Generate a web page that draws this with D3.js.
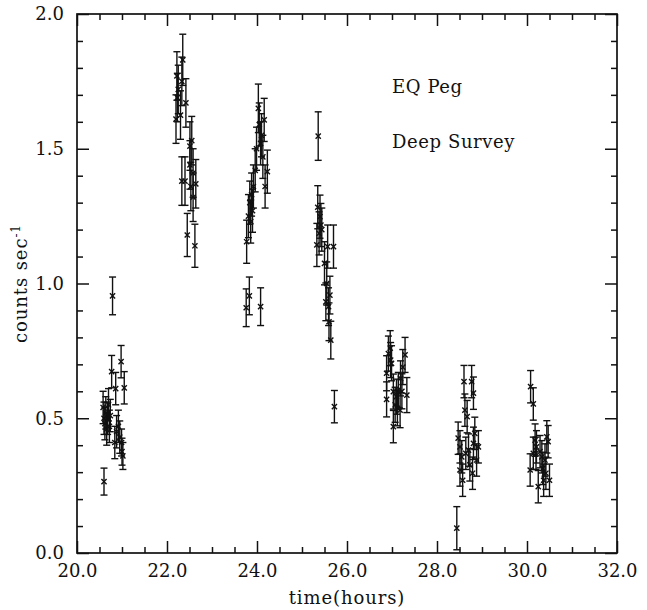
<!DOCTYPE html>
<html>
<head>
<meta charset="utf-8">
<script src="https://cdn.jsdelivr.net/npm/d3@7"></script>
<style>
  body { margin: 0; background: #fff; }
  svg text { font-family: "DejaVu Serif", "Liberation Serif", serif; fill: #111; }
</style>
</head>
<body>
<div id="svg-container"></div>
<script>
////////////////////////////////////////////////////////////////////
////////////////////////////  Data  ////////////////////////////////
// time (hours), count rate (counts/sec), 1-sigma error
const timeHours = [
  20.58, 20.60, 20.62, 20.64, 20.66, 20.68, 20.70, 20.72, 20.74, 20.60, 20.79, 20.77, 20.86, 20.98, 21.05, 20.84, 20.92, 20.95, 21.00, 20.99, 21.02, 20.88,
  22.20, 22.22, 22.23, 22.25, 22.30, 22.33, 22.35, 22.42, 22.33, 22.40, 22.45, 22.51, 22.51, 22.53, 22.55, 22.58, 22.58, 22.62, 22.64,
  23.76, 23.83, 24.08, 23.77, 23.81, 23.84, 23.86, 23.88, 23.90, 23.92, 23.96, 23.99, 24.03, 24.05, 24.08, 24.10, 24.13, 24.16, 24.18, 24.23,
  25.36, 25.33, 25.35, 25.38, 25.40, 25.42, 25.44, 25.50, 25.53, 25.55, 25.57, 25.59, 25.60, 25.62, 25.64, 25.70, 25.72,
  26.88, 26.88, 26.92, 26.96, 26.97, 26.99, 27.03, 27.03, 27.07, 27.10, 27.12, 27.14, 27.18, 27.19, 27.22, 27.24, 27.29, 27.33,
  28.44, 28.47, 28.51, 28.55, 28.51, 28.57, 28.60, 28.62, 28.64, 28.67, 28.70, 28.73, 28.77, 28.79, 28.81, 28.81, 28.84, 28.88, 28.92,
  30.07, 30.08, 30.14, 30.14, 30.18, 30.20, 30.21, 30.25, 30.29, 30.33, 30.35, 30.37, 30.40, 30.42, 30.44, 30.47, 30.50
];
const rates = [
  0.54, 0.50, 0.48, 0.52, 0.46, 0.50, 0.55, 0.47, 0.51, 0.265, 0.954, 0.673, 0.61, 0.71, 0.613, 0.41, 0.47, 0.43, 0.376, 0.41, 0.36, 0.45,
  1.61, 1.77, 1.69, 1.72, 1.625, 1.75, 1.83, 1.67, 1.38, 1.38, 1.18, 1.51, 1.44, 1.36, 1.53, 1.41, 1.32, 1.14, 1.37,
  0.91, 0.954, 0.914, 1.155, 1.25, 1.30, 1.23, 1.33, 1.27, 1.36, 1.42, 1.50, 1.65, 1.59, 1.52, 1.55, 1.47, 1.607, 1.36, 1.415,
  1.547, 1.143, 1.283, 1.186, 1.248, 1.217, 1.20, 1.075, 0.932, 1.0, 1.137, 0.914, 0.858, 0.957, 0.79, 1.137, 0.543,
  0.667, 0.57, 0.74, 0.76, 0.716, 0.704, 0.599, 0.469, 0.55, 0.58, 0.537, 0.605, 0.53, 0.648, 0.60, 0.69, 0.735, 0.586,
  0.092, 0.426, 0.394, 0.357, 0.308, 0.27, 0.636, 0.53, 0.37, 0.506, 0.382, 0.327, 0.636, 0.296, 0.593, 0.407, 0.444, 0.345, 0.394,
  0.308, 0.617, 0.553, 0.37, 0.419, 0.37, 0.394, 0.246, 0.376, 0.357, 0.314, 0.27, 0.345, 0.296, 0.431, 0.413, 0.27
];
const errors = [
  0.06, 0.06, 0.06, 0.06, 0.06, 0.06, 0.06, 0.06, 0.06, 0.05, 0.07, 0.06, 0.06, 0.06, 0.06, 0.06, 0.06, 0.06, 0.05, 0.05, 0.05, 0.06,
  0.09, 0.09, 0.09, 0.09, 0.09, 0.09, 0.095, 0.09, 0.09, 0.09, 0.08, 0.09, 0.09, 0.09, 0.09, 0.09, 0.09, 0.08, 0.09,
  0.07, 0.07, 0.07, 0.08, 0.08, 0.08, 0.08, 0.08, 0.08, 0.08, 0.08, 0.08, 0.09, 0.08, 0.08, 0.08, 0.08, 0.08, 0.08, 0.08,
  0.09, 0.08, 0.08, 0.08, 0.08, 0.08, 0.08, 0.08, 0.07, 0.08, 0.08, 0.07, 0.07, 0.07, 0.07, 0.08, 0.06,
  0.065, 0.065, 0.065, 0.065, 0.065, 0.065, 0.065, 0.06, 0.065, 0.065, 0.065, 0.065, 0.065, 0.065, 0.065, 0.065, 0.065, 0.065,
  0.08, 0.06, 0.06, 0.06, 0.06, 0.06, 0.06, 0.06, 0.06, 0.06, 0.06, 0.06, 0.06, 0.06, 0.06, 0.06, 0.06, 0.06, 0.06,
  0.06, 0.06, 0.06, 0.06, 0.06, 0.06, 0.06, 0.06, 0.06, 0.06, 0.06, 0.06, 0.06, 0.06, 0.06, 0.06, 0.06
];

const xMajorTicks = [20, 22, 24, 26, 28, 30, 32];
const yMajorTicks = [0, 0.5, 1.0, 1.5, 2.0];
const annotations = ["EQ Peg", "Deep Survey"];

////////////////////////////////////////////////////////////////////
////////////////////////////  Init  ////////////////////////////////
const width = 647;
const height = 610;
const margin = { top: 14, right: 30, bottom: 57, left: 77 };

const svg = d3
  .select("#svg-container")
  .append("svg")
  .attr("width", width)
  .attr("height", height);

const xScale = d3
  .scaleLinear()
  .domain([20, 32])
  .range([margin.left, width - margin.right]);

const yScale = d3
  .scaleLinear()
  .domain([0, 2])
  .range([height - margin.bottom, margin.top]);

const data = timeHours.map((t, i) => ({ t: t, r: rates[i], e: errors[i] }));

////////////////////////////////////////////////////////////////////
////////////////////////////  Axes  ////////////////////////////////
const xMinor = d3.range(20, 32.01, 0.5).filter((d) => d % 2 !== 0);
const yMinor = d3.range(0, 2.001, 0.1).filter((d) => Math.abs(d * 2 - Math.round(d * 2)) > 1e-6);
const fmt = d3.format(".1f");

function drawAxis(axisFn, scale, major, minor, transform, pad) {
  svg
    .append("g")
    .attr("class", "axis")
    .attr("transform", transform)
    .call(axisFn(scale).tickValues(major).tickSize(-12).tickPadding(pad || 0).tickFormat(pad ? fmt : () => ""));
  svg
    .append("g")
    .attr("class", "axis")
    .attr("transform", transform)
    .call(axisFn(scale).tickValues(minor).tickSize(-6).tickFormat(() => ""));
}

drawAxis(d3.axisBottom, xScale, xMajorTicks, xMinor, `translate(0,${yScale(0)})`, 11);
drawAxis(d3.axisTop, xScale, xMajorTicks, xMinor, `translate(0,${yScale(2)})`, 0);
drawAxis(d3.axisLeft, yScale, yMajorTicks, yMinor, `translate(${xScale(20)},0)`, 13);
drawAxis(d3.axisRight, yScale, yMajorTicks, yMinor, `translate(${xScale(32)},0)`, 0);

svg.selectAll(".axis .domain").remove();
svg.selectAll(".axis line").attr("stroke", "#111").attr("stroke-width", 1.5);
svg.selectAll(".axis text").style("font-size", "18px").attr("fill", "#111");

// frame
svg
  .append("rect")
  .attr("x", xScale(20))
  .attr("y", yScale(2))
  .attr("width", xScale(32) - xScale(20))
  .attr("height", yScale(0) - yScale(2))
  .attr("fill", "none")
  .attr("stroke", "#111")
  .attr("stroke-width", 1.7);

////////////////////////////////////////////////////////////////////
////////////////////////////  Points  //////////////////////////////
const cap = 3.5;
const mk = 2.6;
const pts = svg.append("g").attr("stroke", "#111").attr("stroke-width", 1.4);

const bars = pts.selectAll("g.pt").data(data).enter().append("g").attr("class", "pt");

bars
  .append("line")
  .attr("x1", (d) => xScale(d.t))
  .attr("x2", (d) => xScale(d.t))
  .attr("y1", (d) => yScale(Math.max(0, d.r - d.e)))
  .attr("y2", (d) => yScale(d.r + d.e));

bars
  .append("line")
  .attr("x1", (d) => xScale(d.t) - cap)
  .attr("x2", (d) => xScale(d.t) + cap)
  .attr("y1", (d) => yScale(d.r + d.e))
  .attr("y2", (d) => yScale(d.r + d.e));

bars
  .append("line")
  .attr("x1", (d) => xScale(d.t) - cap)
  .attr("x2", (d) => xScale(d.t) + cap)
  .attr("y1", (d) => yScale(Math.max(0, d.r - d.e)))
  .attr("y2", (d) => yScale(Math.max(0, d.r - d.e)));

// x markers
bars
  .append("path")
  .attr("d", (d) => {
    const x = xScale(d.t), y = yScale(d.r);
    return `M${x - mk},${y - mk}L${x + mk},${y + mk}M${x - mk},${y + mk}L${x + mk},${y - mk}`;
  });

////////////////////////////////////////////////////////////////////
////////////////////////////  Labels  //////////////////////////////
svg
  .append("text")
  .attr("x", (xScale(20) + xScale(32)) / 2)
  .attr("y", 604)
  .attr("text-anchor", "middle")
  .style("font-size", "18px")
  .style("letter-spacing", "0.9px")
  .text("time(hours)");

svg
  .append("text")
  .attr("transform", `translate(27,${yScale(1)}) rotate(-90)`)
  .attr("text-anchor", "middle")
  .style("font-size", "18px")
  .style("letter-spacing", "0.9px")
  .text("counts sec")
  .append("tspan")
  .attr("dy", -7)
  .style("font-size", "12px")
  .text("-1");

svg
  .selectAll(".annot")
  .data(annotations)
  .enter()
  .append("text")
  .attr("class", "annot")
  .attr("x", xScale(27))
  .attr("y", (d, i) => yScale(1.708) + i * 55)
  .style("font-size", "18px")
  .style("letter-spacing", "0.6px")
  .text((d) => d);
</script>
</body>
</html>
